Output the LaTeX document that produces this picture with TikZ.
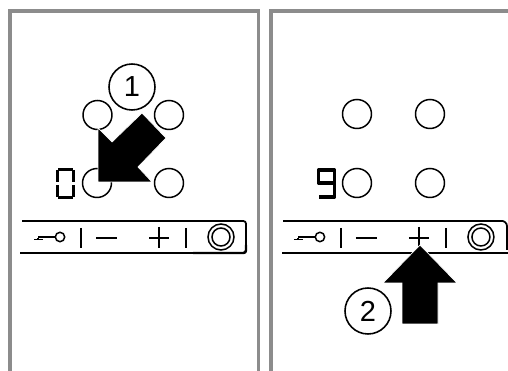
\documentclass[tikz,border=0pt]{standalone}
\usepackage{fontspec}
\setmainfont{Liberation Sans}
\usepackage{tikz}
\tikzset{
  frameline/.style={draw=black!45, line width=2.2pt},
  hob/.style={circle, draw, line width=0.85pt, minimum size=0.58cm, inner sep=0pt},
  callout/.style={circle, draw, line width=0.9pt, minimum size=0.92cm, inner sep=0pt, font=\fontsize{16.5}{16.5}\selectfont},
  bigarrow/.style={fill=black, draw=white, line width=0.4pt},
  stripline/.style={line width=1pt, rounded corners=1.5pt},
  keyline/.style={line width=0.85pt},
  segment/.style={line width=1.7pt},
}
\newcommand{\panelstrip}{%
    \draw[keyline] (60,237) circle (4.7);
    \draw[keyline] (55,237) -- (38,237);
    \draw[line width=1.1pt] (34,239.5) -- (43,239.5);
    \draw[keyline] (38,238) -- (38,240);
    \draw[keyline] (81,228) -- (81,248);
    \draw[keyline] (96,238) -- (117,238);
    \draw[keyline] (149,238) -- (169,238);
    \draw[keyline] (159,227) -- (159,248);
    \draw[keyline] (186,228) -- (186,248);
    \draw[keyline] (221,237) circle (13);
    \draw[keyline] (221,237) circle (9);
}
\begin{document}
\begin{tikzpicture}[x=0.02cm,y=-0.02cm]
    \useasboundingbox (0,0) rectangle (508,371);
    % grey frames
    \draw[frameline] (10,371) -- (10,11) -- (258.5,11) -- (258.5,371);
    \draw[frameline] (271,371) -- (271,11) -- (508,11);

    % hobs
    \node[hob] (hobLA) at (97.5,115) {};
    \node[hob] (hobLB) at (169,115) {};
    \node[hob] (hobLC) at (97,183) {};
    \node[hob] (hobLD) at (169,183) {};
    \node[hob] (hobRA) at (357,114) {};
    \node[hob] (hobRB) at (430,114) {};
    \node[hob] (hobRC) at (357,183) {};
    \node[hob] (hobRD) at (430,183) {};

    % digit 0
    \draw[segment] (58,169.5) -- (73,169.5);
    \draw[segment] (57.5,170) -- (57.5,182);
    \draw[segment] (73.5,170) -- (73.5,182);
    \draw[segment] (57.5,185) -- (57.5,197);
    \draw[segment] (73.5,185) -- (73.5,197);
    \draw[segment] (58,197.5) -- (73,197.5);
    % digit 9
    \draw[line width=2.1pt, line join=round] (334.5,183) -- (318.5,183) -- (318.5,170) -- (334.5,170) -- (334.5,197) -- (319,197);

    % control strips
    \draw[stripline] (22,221) -- (246,221) -- (246,253) -- (20,253);
    \draw[line width=1.4pt, rounded corners=1.5pt] (193,253) -- (246,253) -- (246,245);
    \panelstrip
    \draw[stripline] (283,221) -- (500,221) to[out=0,in=90] (507,226);
    \draw[stripline] (282,253) -- (508,253);
    \draw[keyline] (507,226) -- (507,250);
    \begin{scope}[xshift=5.2cm]
      \panelstrip
    \end{scope}

    % arrows
    \fill[bigarrow] (98,128) -- (112,142) -- (142,113) -- (166,138) -- (138,167) -- (152,182) -- (98,182) -- cycle;
    \fill[bigarrow] (420,245) -- (457,283) -- (438,283) -- (438,324) -- (402,324) -- (402,283) -- (383,283) -- cycle;

    % numbers
    \node[callout] (numOne) at (132,87) {1};
    \node[callout] (numTwo) at (368,311) {2};
  \end{tikzpicture}
\end{document}
